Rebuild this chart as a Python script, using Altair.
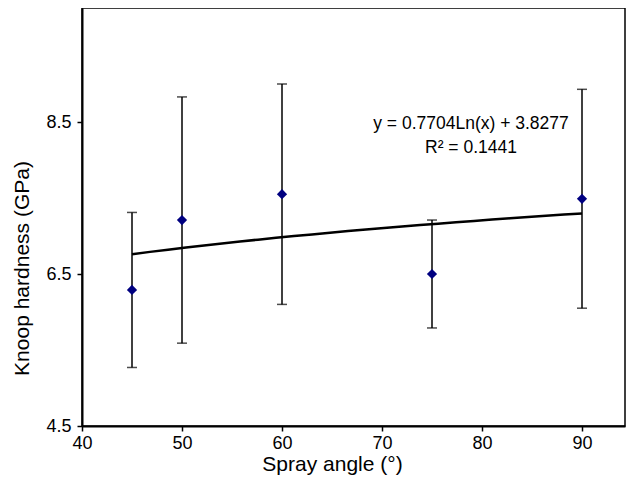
import altair as alt
import pandas as pd

angles = [45, 50, 60, 75, 90]
hardness = [6.29, 7.21, 7.55, 6.50, 7.49]
errors = [1.02, 1.62, 1.45, 0.71, 1.44]

eq_lines = ["y = 0.7704Ln(x) + 3.8277", "R\u00b2 = 0.1441"]
eq_x = [78.9, 78.9]
eq_y = [8.48, 8.16]

x_ticks = [40, 50, 60, 70, 80, 90]
y_ticks = [4.5, 6.5, 8.5]

df = pd.DataFrame({
    "angle": angles,
    "hardness": hardness,
    "lo": [h - e for h, e in zip(hardness, errors)],
    "hi": [h + e for h, e in zip(hardness, errors)],
})
txt = pd.DataFrame({"label": eq_lines, "x": eq_x, "y": eq_y})

FONT = "Liberation Sans"

xs = alt.Scale(domain=[40, 94.3], nice=False, zero=False)
ys = alt.Scale(domain=[4.5, 10], nice=False, zero=False)

xaxis = alt.Axis(values=x_ticks, title="Spray angle (\u00b0)", grid=False,
                 labelFontSize=18, titleFontSize=21, labelFont=FONT, titleFont=FONT,
                 titleFontWeight="normal", labelColor="black", titleColor="black",
                 domainColor="black", domainWidth=2, tickColor="black", tickWidth=1.5,
                 tickSize=5, labelPadding=3, titleX=250, titleY=27, labelFlush=False)
yaxis = alt.Axis(values=y_ticks, title="Knoop hardness (GPa)", grid=False, format=".1f",
                 labelFontSize=18, titleFontSize=21, labelFont=FONT, titleFont=FONT,
                 titleFontWeight="normal", labelColor="black", titleColor="black",
                 domainColor="black", domainWidth=2, tickColor="black", tickWidth=1.5,
                 tickSize=5, labelPadding=6, titleX=-50, titleY=260, labelFlush=False)

base = alt.Chart(df)

rules = base.mark_rule(color="black", strokeWidth=1.5).encode(
    x=alt.X("angle:Q", scale=xs, axis=xaxis),
    y=alt.Y("lo:Q", scale=ys, axis=yaxis),
    y2="hi:Q",
)
cap_lo = base.mark_tick(color="black", orient="horizontal", size=10, thickness=1.5).encode(
    x=alt.X("angle:Q", scale=xs), y=alt.Y("lo:Q", scale=ys))
cap_hi = base.mark_tick(color="black", orient="horizontal", size=10, thickness=1.5).encode(
    x=alt.X("angle:Q", scale=xs), y=alt.Y("hi:Q", scale=ys))

trend = base.transform_regression(
    "angle", "hardness", method="log", extent=[45, 90]
).mark_line(color="black", strokeWidth=2.5).encode(
    x=alt.X("angle:Q", scale=xs), y=alt.Y("hardness:Q", scale=ys))

points = base.mark_point(shape="diamond", filled=True, color="#000080", size=105, opacity=1).encode(
    x=alt.X("angle:Q", scale=xs), y=alt.Y("hardness:Q", scale=ys))

text = alt.Chart(txt).mark_text(font=FONT, fontSize=17.5, color="black", align="center",
                                baseline="middle").encode(
    x=alt.X("x:Q", scale=xs), y=alt.Y("y:Q", scale=ys), text="label:N")

chart = alt.layer(rules, cap_lo, cap_hi, trend, points, text).properties(
    width=543, height=418,
    autosize=alt.AutoSizeParams(type="none"),
    padding={"left": 74, "top": 0, "right": 1, "bottom": 50},
    background="white",
).configure_view(stroke="black", strokeWidth=1.5)

chart.save("out.html", embed_options={"renderer": "svg", "actions": False})
